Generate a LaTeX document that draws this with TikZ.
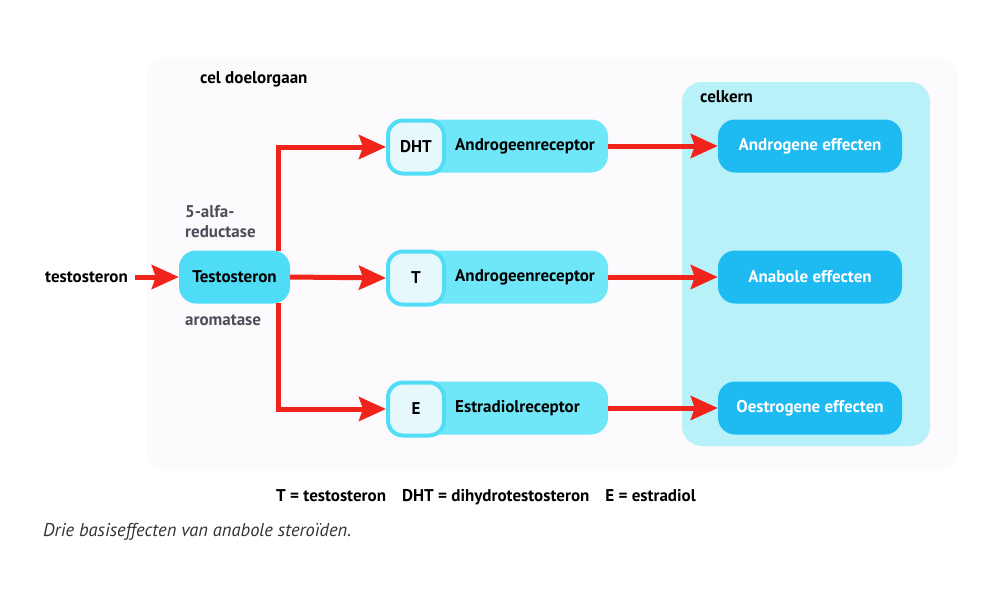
\documentclass[tikz,border=0pt]{standalone}
\usepackage{fontspec}
\setmainfont{PT Sans}
\usetikzlibrary{arrows.meta,positioning}
\definecolor{panel}{HTML}{FCFAFC}
\definecolor{kern}{HTML}{B9F1F9}
\definecolor{effect}{HTML}{1EBAF2}
\definecolor{recep}{HTML}{70E7F8}
\definecolor{inner}{HTML}{E6F8FC}
\definecolor{innerb}{HTML}{52DDF6}
\definecolor{testo}{HTML}{4EDCF6}
\definecolor{arrowred}{HTML}{F0241A}
\definecolor{enz}{HTML}{4A4F5A}
\definecolor{capt}{HTML}{333333}
\tikzset{
  lbl/.style={font=\fontsize{17}{20}\selectfont\bfseries, inner sep=0pt},
  enzlbl/.style={font=\fontsize{17}{20}\selectfont\bfseries, text=enz, inner sep=0pt, align=left},
  effbox/.style={fill=effect, rounded corners=17pt, minimum width=184pt, minimum height=53pt, text=white, font=\fontsize{17}{20}\selectfont\bfseries, inner sep=0pt},
  recbox/.style={fill=recep, rounded corners=17pt, minimum width=222pt, minimum height=53pt, inner sep=0pt},
  innerbox/.style={fill=inner, draw=innerb, line width=4pt, rounded corners=15pt, minimum width=56pt, minimum height=53pt, font=\fontsize{17}{20}\selectfont\bfseries, inner sep=0pt},
  redarrow/.style={draw=arrowred, line width=5pt, -{Stealth[length=27pt,width=24pt,inset=4pt]}},
}
\begin{document}
\begin{tikzpicture}[x=1pt,y=-1pt]
\useasboundingbox (0,0) rectangle (1000,600);
\fill[white] (0,0) rectangle (1000,600);
% panels
\node[fill=panel, rounded corners=16pt, minimum width=811pt, minimum height=412pt, inner sep=0pt] (cell) at (552.5,264) {};
\node[fill=kern, rounded corners=20pt, minimum width=248pt, minimum height=364pt, inner sep=0pt] (kernpanel) at (806,264) {};
\node[lbl, anchor=west] (celllbl) at (200,79) {cel doelorgaan};
\node[lbl, anchor=west] (kernlbl) at (700,97) {celkern};
% effect boxes
\node[effbox] (eff1) at (810,146) {Androgene effecten};
\node[effbox] (eff2) at (810,277) {Anabole effecten};
\node[effbox] (eff3) at (810,408) {Oestrogene effecten};
% receptor boxes
\node[recbox] (rec1) at (497,146) {};
\node[recbox] (rec2) at (497,277) {};
\node[recbox] (rec3) at (497,408) {};
\node[innerbox] (in1) at (416,147) {DHT};
\node[innerbox] (in2) at (416,278) {T};
\node[innerbox] (in3) at (416,409) {E};
\node[lbl, anchor=west] (rl1) at (455,146) {Androgeenreceptor};
\node[lbl, anchor=west] (rl2) at (455,277) {Androgeenreceptor};
\node[lbl, anchor=west] (rl3) at (455,408) {Estradiolreceptor};
% testosteron
\node[fill=testo, rounded corners=17pt, minimum width=111pt, minimum height=53pt, font=\fontsize{17}{20}\selectfont\bfseries, inner sep=0pt] (testo) at (234.5,277) {Testosteron};
\node[lbl, anchor=west] (inlbl) at (45,277) {testosteron};
\node[enzlbl, anchor=west] (alfa) at (185,222) {5-alfa-\\reductase};
\node[enzlbl, anchor=west] (arom) at (185,320) {aromatase};
\coordinate (btop) at (278,251);
\coordinate (bbot) at (278,303);
% arrows
\draw[redarrow] (inlbl.east) ++(7,0) coordinate (inend) (inend) -- (testo.west);
\draw[redarrow] (testo.east) -- (in2.west);
\draw[redarrow] (btop) |- (in1.west);
\draw[redarrow] (bbot) |- (in3.west);
\draw[redarrow] (rec1.east) -- (eff1.west);
\draw[redarrow] (rec2.east) -- (eff2.west);
\draw[redarrow] (rec3.east) -- (eff3.west);
% legend and caption
\node[lbl] (legend) at (486,497) {T = testosteron\hspace{16pt}DHT = dihydrotestosteron\hspace{16pt}E = estradiol};
\node[font=\fontsize{18.5}{22}\selectfont\itshape, text=capt, anchor=west, inner sep=0pt] (caption) at (43,532) {Drie basiseffecten van anabole steroïden.};
\end{tikzpicture}
\end{document}
